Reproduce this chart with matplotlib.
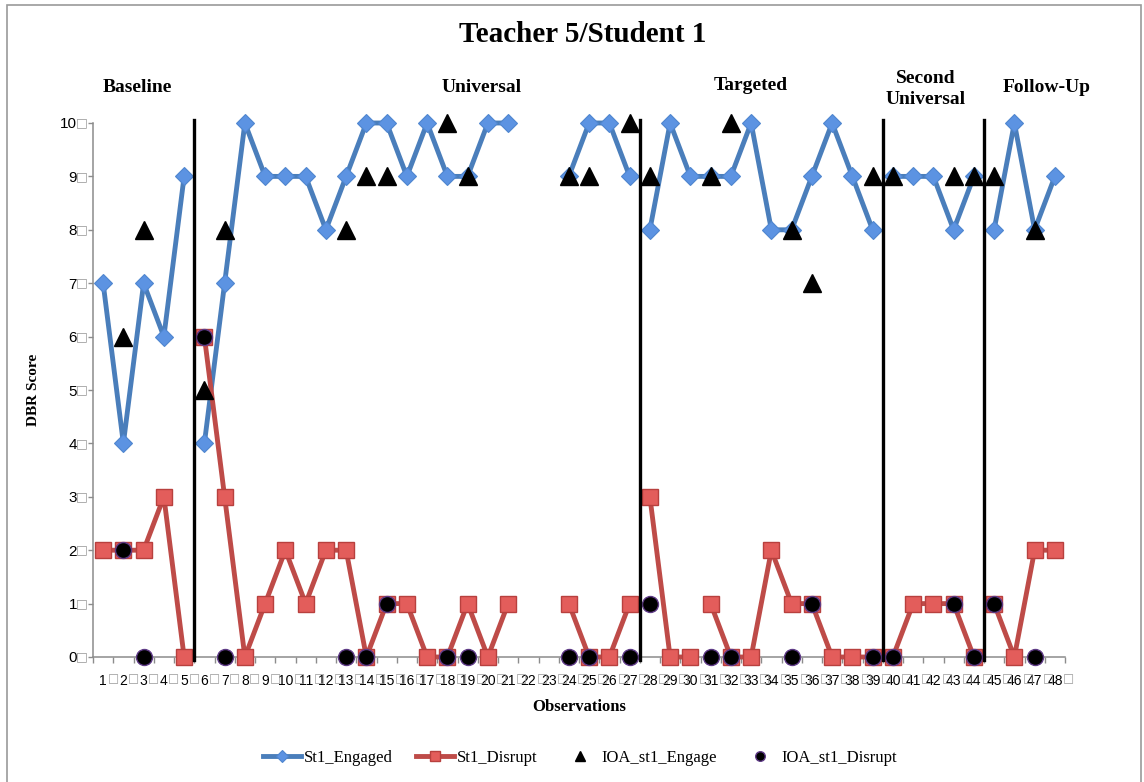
import numpy as np
import matplotlib
matplotlib.use('Agg')
import matplotlib.pyplot as plt
from matplotlib.patches import Rectangle

# DBR scores per observation (nan = no session recorded)
obs = np.arange(1, 49)
engaged = [7, 4, 7, 6, 9,
           4, 7, 10, 9, 9, 9, 8, 9, 10, 10, 9, 10, 9, 9, 10, 10, np.nan, np.nan, 9, 10, 10, 9,
           8, 10, 9, 9, 9, 10, 8, 8, 9, 10, 9, 8,
           9, 9, 9, 8, 9,
           8, 10, 8, 9]
disrupt = [2, 2, 2, 3, 0,
           6, 3, 0, 1, 2, 1, 2, 2, 0, 1, 1, 0, 0, 1, 0, 1, np.nan, np.nan, 1, 0, 0, 1,
           3, 0, 0, 1, 0, 0, 2, 1, 1, 0, 0, 0,
           0, 1, 1, 1, 0,
           1, 0, 2, 2]

# inter-observer agreement checks
ioa_obs = [2, 3, 6, 7, 13, 14, 15, 18, 19, 24, 25, 27, 28, 31, 32, 35, 36, 39, 40, 43, 44, 45, 47]
ioa_engage = [6, 8, 5, 8, 8, 9, 9, 10, 9, 9, 9, 10, 9, 9, 10, 8, 7, 9, 9, 9, 9, 9, 8]
ioa_disrupt = [2, 0, 6, 0, 0, 0, 1, 0, 0, 0, 0, 0, 1, 0, 0, 0, 1, 0, 0, 1, 0, 1, 0]

phase_names = ['Baseline', 'Universal', 'Targeted', 'Second\nUniversal', 'Follow-Up']
phase_ends = [5, 27, 39, 44]          # last observation before each phase change
disrupt_breaks = [5, 27, 30, 39, 44]  # disrupt line also breaks after obs 30


def with_breaks(values, after):
    x = np.insert(obs.astype(float), after, np.nan)
    y = np.insert(np.asarray(values, dtype=float), after, np.nan)
    return x, y


serif = 'Liberation Serif'
sans = 'Liberation Sans'

fig = plt.figure(figsize=(11.44, 7.82), dpi=100)
ax = fig.add_axes([93 / 1144, 1 - 657 / 782, 972 / 1144, 534 / 782])

xe, ye = with_breaks(engaged, phase_ends)
xd, yd = with_breaks(disrupt, disrupt_breaks)

ax.plot(xe, ye, color='#4A7EBB', lw=3.5, marker='D', ms=9.5, mfc='#5C93E2',
        mec='#4F86CF', mew=0.8, label='St1_Engaged', clip_on=False, zorder=3)
ax.plot(xd, yd, color='#BE4B48', lw=3.5, marker='s', ms=12, mfc='#E35D5B',
        mec='#B8403E', mew=1, label='St1_Disrupt', clip_on=False, zorder=4)
ax.plot(ioa_obs, ioa_engage, ls='none', marker='^', ms=12.5, color='black',
        label='IOA_st1_Engage', clip_on=False, zorder=5)
ax.plot(ioa_obs, ioa_disrupt, ls='none', marker='o', ms=11.5, mfc='black',
        mec='#5E3A86', mew=1, label='IOA_st1_Disrupt', clip_on=False, zorder=6)

# phase change lines
for e in phase_ends:
    ax.plot([e + 0.5, e + 0.5], [-0.05, 10.05], color='black', lw=2.4,
            clip_on=False, zorder=7)

# phase labels
label_pos = [(2.67, 10.67), (19.7, 10.67), (33.0, 10.71), (41.6, 10.64), (47.6, 10.66)]
for name, (px, py) in zip(phase_names, label_pos):
    ax.text(px, py, name, ha='center', va='center', fontsize=14,
            fontweight='bold', family=serif, linespacing=1.35)

ax.set_xlim(0.5, 48.5)
ax.set_ylim(0, 10)

for s in ['top', 'right']:
    ax.spines[s].set_visible(False)
for s in ['left', 'bottom']:
    ax.spines[s].set_color('#8c8c8c')
    ax.spines[s].set_linewidth(1.1)

ax.set_xticks(obs)
ax.set_xticklabels([str(i) for i in obs], family=sans, fontsize=10)
ax.set_xticks(np.arange(0.5, 49, 1), minor=True)
ax.tick_params(axis='x', which='major', length=0, pad=12)
ax.tick_params(axis='x', which='minor', length=4, color='#8c8c8c', width=1)

ax.set_yticks(range(0, 11))
ax.set_yticklabels([str(v) for v in range(0, 11)], family=sans, fontsize=11)
ax.tick_params(axis='y', length=3.6, color='#8c8c8c', width=1, pad=8)

# the little boxes that follow each tick number
for i in obs:
    ax.annotate('\u25a1', xy=(i, 0), xycoords=('data', 'axes fraction'),
                xytext=(len(str(i)) * 2.8 + 0.3, -15.5), textcoords='offset points',
                ha='left', va='center', fontsize=8.5, color='#9a9a9a', family='DejaVu Sans')
for v in range(0, 11):
    ax.annotate('\u25a1', xy=(0, v), xycoords=('axes fraction', 'data'),
                xytext=(-7.8, 0), textcoords='offset points',
                ha='center', va='center', fontsize=9, color='#9a9a9a', family='DejaVu Sans')

ax.set_xlabel('Observations', family=serif, fontsize=12, fontweight='bold', labelpad=8)
ax.set_ylabel('DBR Score', family=serif, fontsize=11, fontweight='bold', labelpad=14)

fig.text(583 / 1144, 1 - 34 / 782, 'Teacher 5/Student 1', ha='center', va='center',
         fontsize=21, fontweight='bold', family=serif)

fig.legend(loc='center', bbox_to_anchor=(580 / 1144, 1 - 758 / 782), ncol=4,
           frameon=False, prop={'family': serif, 'size': 12}, handlelength=2.3,
           handletextpad=0.15, columnspacing=1.4, markerscale=0.6)

# outer border of the chart
fig.add_artist(Rectangle((7 / 1144, -0.02), (1141 - 7) / 1144, 1.02 - 5 / 782,
                         transform=fig.transFigure, fill=False,
                         edgecolor='#9a9a9a', lw=1.2))

fig.savefig('out.png', dpi=100)
